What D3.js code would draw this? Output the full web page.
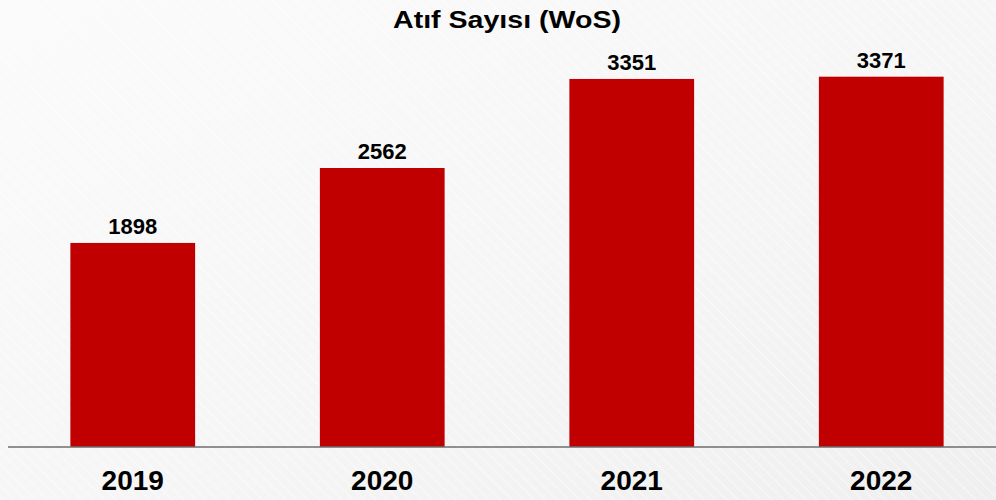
<!DOCTYPE html>
<html>
<head>
<meta charset="utf-8">
<script src="https://cdn.jsdelivr.net/npm/d3@7"></script>
<style>
  html, body { margin: 0; padding: 0; background: #f6f6f6; }
  svg { display: block; font-family: "Liberation Sans", Arial, sans-serif; }
</style>
</head>
<body>
<div id="chart"></div>
<script>
const title = "Atıf Sayısı (WoS)";
const categories = ["2019", "2020", "2021", "2022"];
const values = [1898, 2562, 3351, 3371];

const W = 996, H = 500;
const svg = d3.select("#chart").append("svg").attr("width", W).attr("height", H);

// background
const defs = svg.append("defs");
const bg = defs.append("linearGradient").attr("id", "bg")
  .attr("x1", "0").attr("y1", "0").attr("x2", "1").attr("y2", "1");
bg.append("stop").attr("offset", "0%").attr("stop-color", "#fbfbfb");
bg.append("stop").attr("offset", "60%").attr("stop-color", "#f5f5f5");
bg.append("stop").attr("offset", "100%").attr("stop-color", "#efefef");
const pat = defs.append("pattern").attr("id", "stripes")
  .attr("width", 8).attr("height", 8).attr("patternUnits", "userSpaceOnUse")
  .attr("patternTransform", "rotate(-45)");
pat.append("rect").attr("width", 8).attr("height", 8).attr("fill", "none");
pat.append("line").attr("x1", 0).attr("y1", 0).attr("x2", 0).attr("y2", 8)
  .attr("stroke", "#ffffff").attr("stroke-width", 2).attr("opacity", 0.5);
svg.append("rect").attr("width", W).attr("height", H).attr("fill", "url(#bg)");
svg.append("rect").attr("width", W).attr("height", H).attr("fill", "url(#stripes)");

const baseY = 447;
const x = d3.scaleBand().domain(categories).range([8, 1006])
  .paddingInner(0.5).paddingOuter(0.25);
const y = d3.scaleLinear().domain([90, 4000]).range([baseY, 5.7]);

// title
svg.append("text").attr("x", 507).attr("y", 28)
  .attr("text-anchor", "middle").attr("font-size", 24).attr("font-weight", "bold")
  .attr("textLength", 228).attr("lengthAdjust", "spacingAndGlyphs")
  .attr("fill", "#000").text(title);

// bars
svg.selectAll("rect.bar").data(values).join("rect").attr("class", "bar")
  .attr("x", (d, i) => x(categories[i]))
  .attr("width", x.bandwidth())
  .attr("y", d => y(d))
  .attr("height", d => baseY - y(d))
  .attr("fill", "#c00000");

// value labels
svg.selectAll("text.val").data(values).join("text").attr("class", "val")
  .attr("x", (d, i) => x(categories[i]) + x.bandwidth() / 2)
  .attr("y", d => y(d) - 9)
  .attr("text-anchor", "middle").attr("font-size", 22).attr("font-weight", "bold")
  .attr("fill", "#000").text(d => d);

// axis
const axis = d3.axisBottom(x).tickSize(0).tickPadding(0);
const g = svg.append("g").attr("transform", `translate(0,${baseY})`).call(axis);
g.select(".domain").attr("d", `M8,0H${W}`).attr("stroke", "#6e6e6e").attr("stroke-width", 1.6);
g.selectAll(".tick text").attr("y", 43).attr("dy", 0)
  .attr("font-size", 28).attr("font-weight", "bold").attr("fill", "#000")
  .attr("font-family", "'Liberation Sans', Arial, sans-serif");
</script>
</body>
</html>
